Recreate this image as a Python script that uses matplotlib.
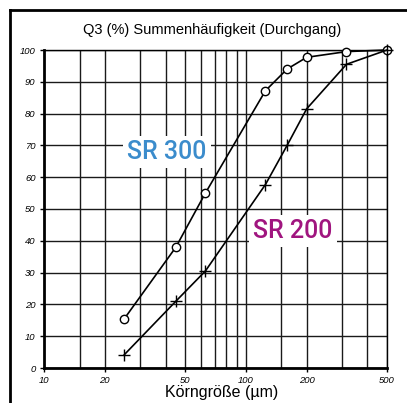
import matplotlib
matplotlib.use("Agg")
import matplotlib.pyplot as plt
from matplotlib.lines import Line2D
from matplotlib.ticker import FixedLocator, NullLocator, NullFormatter

# Korngroesse (um) und Summenhaeufigkeit Q3 (%)
sr300_x = [25, 45, 63, 125, 160, 200, 315, 500]
sr300_q3 = [15.5, 38, 55, 87.2, 94, 97.7, 99.5, 100]
sr200_x = [25, 45, 63, 125, 160, 200, 315, 500]
sr200_q3 = [4.2, 21, 30.5, 57.7, 70, 81.5, 95.5, 100]

x_ticks = [10, 20, 50, 100, 200, 500]
x_grid = [15, 20, 30, 40, 50, 60, 70, 80, 90, 100, 150, 200, 300, 400, 500]
y_ticks = list(range(0, 101, 10))

plt.rcParams['font.family'] = ['Liberation Sans', 'DejaVu Sans']

fig = plt.figure(figsize=(4.07, 4.03), dpi=100)
ax = fig.add_axes([44/407, 35/403, 343/407, 318/403])

ax.set_xscale('log')
ax.set_xlim(10, 500)
ax.set_ylim(0, 100)

ax.xaxis.set_major_locator(FixedLocator(x_ticks))
ax.xaxis.set_minor_locator(NullLocator())
ax.xaxis.set_minor_formatter(NullFormatter())
ax.set_xticks(x_ticks)
ax.set_xticklabels([str(t) for t in x_ticks], fontsize=6.8, style='italic')
ax.set_yticks(y_ticks)
ax.set_yticklabels([str(t) for t in y_ticks], fontsize=6.8, style='italic')
ax.tick_params(length=3, width=1, color='black', pad=3)

for g in x_grid:
    ax.axvline(g, color='#1a1a1a', lw=1.0, zorder=1)
for g in y_ticks:
    ax.axhline(g, color='#1a1a1a', lw=1.0, zorder=1)

for s in ax.spines.values():
    s.set_linewidth(1.0)
ax.spines['left'].set_linewidth(2.0)
ax.spines['bottom'].set_linewidth(2.0)

ax.plot(sr300_x, sr300_q3, color='black', lw=1.2, marker='o', ms=6,
        mfc='white', mec='black', mew=1.0, zorder=3, clip_on=False)
ax.plot(sr200_x, sr200_q3, color='black', lw=1.2, marker='+', ms=8,
        mew=1.0, zorder=3, clip_on=False)

ax.text(0.359, 0.679, 'SR 300', transform=ax.transAxes, ha='center', va='center',
        fontsize=18, color='#3b8ccc', family=['Roboto', 'DejaVu Sans'], weight='medium',
        bbox=dict(facecolor='white', edgecolor='none', pad=3), zorder=4)
ax.text(0.726, 0.431, 'SR 200', transform=ax.transAxes, ha='center', va='center',
        fontsize=18, color='#a0157f', family=['Roboto', 'DejaVu Sans'], weight='medium',
        bbox=dict(facecolor='white', edgecolor='none', pad=3), zorder=4)

fig.text(212/407, 1 - 30/403, 'Q3 (%) Summenhäufigkeit (Durchgang)',
         ha='center', va='center', fontsize=10.5)
fig.text(222/407, 1 - 392/403, 'Körngröße (µm)', ha='center', va='center', fontsize=11.5)

# Rahmen links und oben
fig.add_artist(Line2D([10/407, 10/407], [0, 1 - 10/403], transform=fig.transFigure,
                      color='black', lw=2.0))
fig.add_artist(Line2D([10/407, 1], [1 - 10/403, 1 - 10/403], transform=fig.transFigure,
                      color='black', lw=2.0))

fig.savefig('out.png', dpi=100)
